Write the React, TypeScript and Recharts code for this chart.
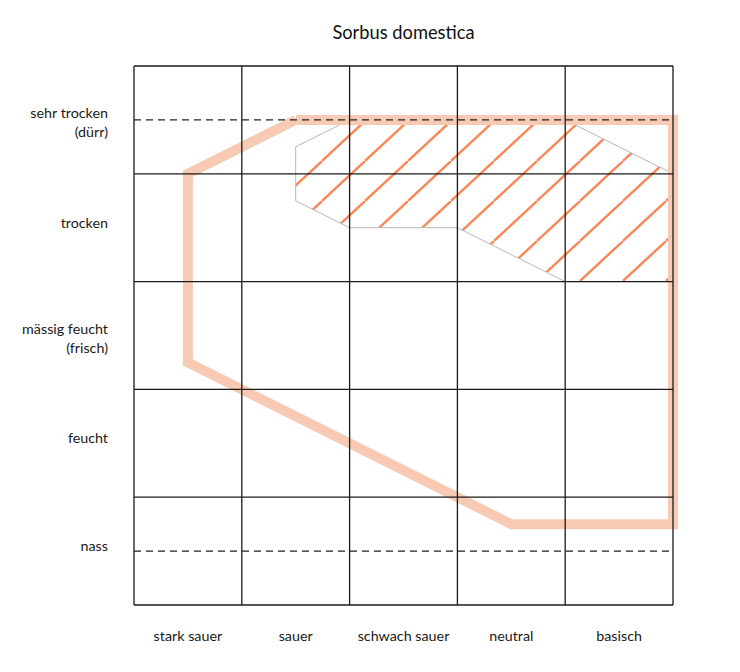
import { ReferenceLine, Scatter, ScatterChart, XAxis, YAxis } from "recharts";

// soil moisture rows (top to bottom) and soil reaction columns (left to right)
const moistureRows = [
  ["sehr trocken", "(dürr)"],
  ["trocken"],
  ["mässig feucht", "(frisch)"],
  ["feucht"],
  ["nass"],
];
const reactionCols = ["stark sauer", "sauer", "schwach sauer", "neutral", "basisch"];
const rowTicks = [0.5, 1.5, 2.5, 3.5, 4.5];
const colTicks = [0.5, 1.5, 2.5, 3.5, 4.5];
const gridLines = [0, 1, 2, 3, 4, 5];
const dashedRows = [0.5, 4.5];

// physiological range (thick outline), closed polygon
const rangeX = [1.5, 5, 5, 3.5, 0.5, 0.5, 1.5];
const rangeY = [0.5, 0.5, 4.25, 4.25, 2.75, 1, 0.5];

// optimum (hatched area), closed polygon
const optimumX = [2, 4, 5, 5, 4, 3, 2, 1.5, 1.5, 2];
const optimumY = [0.5, 0.5, 1, 2, 2, 1.5, 1.5, 1.25, 0.75, 0.5];

const rangeData = rangeX.map((x, i) => ({ x, y: rangeY[i] }));
const optimumData = optimumX.map((x, i) => ({ x, y: optimumY[i] }));

const font = "Lato, 'Open Sans', sans-serif";

const noDot = () => <g />;

function RowTick(props: any) {
  const { x, y, payload } = props;
  const lines = moistureRows[rowTicks.indexOf(payload.value)] || [];
  const first = lines.length > 1 ? -2 : 0;
  return (
    <text x={x} y={y} textAnchor="end" fontFamily={font} fontSize={14.3} fill="#1a1a1a">
      {lines.map((l, i) => (
        <tspan key={i} x={x} dy={i === 0 ? first : 19}>
          {l}
        </tspan>
      ))}
    </text>
  );
}

export default function App() {
  return (
    <div style={{ position: "absolute", left: 0, top: 0, width: 740, height: 672, background: "#fff" }}>
      <div
        style={{
          position: "absolute",
          left: 134,
          width: 539,
          top: 21,
          textAlign: "center",
          fontFamily: font,
          fontSize: 18.3,
          color: "#111",
        }}
      >
        Sorbus domestica
      </div>
      <ScatterChart width={740} height={672} margin={{ top: 66, right: 67, left: 0, bottom: 0 }}>
        <defs>
          <pattern id="hatch" patternUnits="userSpaceOnUse" x={21} y={1} width={43} height={40}>
            <line x1={0} y1={40} x2={43} y2={0} stroke="#f5895a" strokeWidth={2.4} />
            <line x1={-43} y1={40} x2={0} y2={0} stroke="#f5895a" strokeWidth={2.4} />
            <line x1={43} y1={40} x2={86} y2={0} stroke="#f5895a" strokeWidth={2.4} />
          </pattern>
        </defs>
        <XAxis
          type="number"
          dataKey="x"
          domain={[0, 5]}
          ticks={colTicks}
          tickFormatter={(v: number) => reactionCols[colTicks.indexOf(v)]}
          axisLine={false}
          tickLine={false}
          tickSize={0}
          tickMargin={26}
          height={67}
          tick={{ fontFamily: font, fontSize: 14.3, fill: "#1a1a1a" }}
        />
        <YAxis
          type="number"
          dataKey="y"
          domain={[0, 5]}
          reversed
          ticks={rowTicks}
          axisLine={false}
          tickLine={false}
          tickSize={0}
          tickMargin={26}
          width={134}
          tick={<RowTick />}
        />
        <Scatter
          data={optimumData}
          isAnimationActive={false}
          shape={noDot}
          line={(p: any) => (
            <polygon
              points={p.points.map((pt: any) => `${pt.x},${pt.y}`).join(" ")}
              fill="url(#hatch)"
              stroke="#b8b8b8"
              strokeWidth={1}
            />
          )}
        />
        <Scatter
          data={rangeData}
          isAnimationActive={false}
          shape={noDot}
          line={{ stroke: "#f7cbb3", strokeWidth: 10, strokeLinejoin: "miter" }}
        />
        {gridLines.map((v) => (
          <ReferenceLine key={`v${v}`} x={v} stroke="#1a1a1a" strokeWidth={1.3} zIndex={800} />
        ))}
        {gridLines.map((v) => (
          <ReferenceLine key={`h${v}`} y={v} stroke="#1a1a1a" strokeWidth={1.3} zIndex={800} />
        ))}
        {dashedRows.map((v) => (
          <ReferenceLine key={`d${v}`} y={v} stroke="#222" strokeWidth={1.2} strokeDasharray="7 5" zIndex={800} />
        ))}
      </ScatterChart>
    </div>
  );
}
